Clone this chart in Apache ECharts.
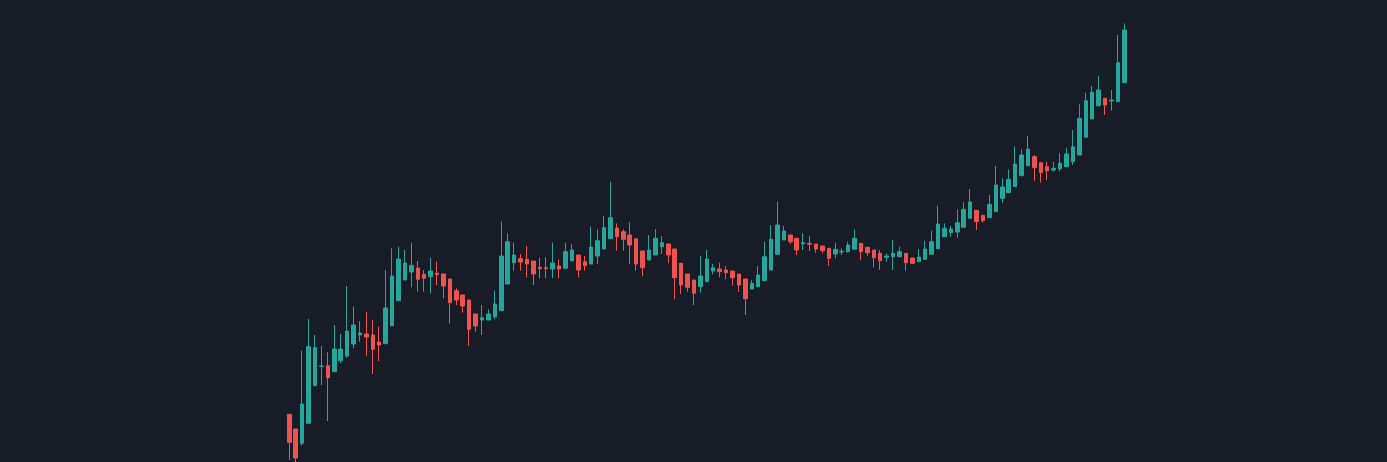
<!DOCTYPE html>
<html>
<head>
<meta charset="utf-8">
<script src="https://cdn.jsdelivr.net/npm/echarts@6/dist/echarts.min.js"></script>
<style>
html,body{margin:0;padding:0;background:#181c27;}
#chart{width:1387px;height:462px;}
</style>
</head>
<body>
<div id="chart"></div>
<script>
const opens = [8.57,7.10,5.67,7.67,11.43,13.37,13.43,12.83,13.93,14.40,15.60,16.50,16.60,16.50,15.80,15.63,17.43,19.93,22.00,22.80,
23.20,22.57,22.33,22.67,22.60,22.10,20.93,20.50,20.00,18.60,18.00,18.00,18.33,18.93,21.60,23.73,24.13,24.07,23.90,23.27,
23.23,23.10,23.40,23.17,23.93,24.50,23.83,23.60,24.40,25.10,26.13,27.20,26.83,26.50,26.13,24.90,24.00,24.50,25.33,25.60,
25.10,23.67,22.60,22.00,21.33,21.83,22.90,23.10,23.00,22.90,22.60,22.10,21.10,21.33,21.93,23.00,24.57,26.00,26.50,26.17,
25.60,25.67,25.60,25.40,25.17,24.60,24.80,24.83,25.07,25.67,25.27,25.00,24.67,24.27,24.33,24.33,24.67,24.20,23.83,24.07,
24.57,25.13,26.33,26.73,26.80,27.27,28.17,28.97,28.47,28.23,28.83,30.17,30.73,31.33,32.43,33.43,34.33,33.73,33.33,33.00,
33.10,33.33,33.83,34.50,36.27,38.10,39.43,40.17,39.90,39.83,41.73];
const closes = [5.77,4.20,9.60,15.33,15.23,13.40,12.23,15.10,15.10,16.90,17.50,16.70,16.30,15.07,15.50,19.20,22.40,24.10,23.70,23.47,
22.07,22.17,22.90,22.53,21.40,19.73,20.00,19.40,17.07,17.40,18.23,18.60,19.60,24.40,25.83,24.50,23.80,23.60,22.60,23.13,
23.13,23.70,23.10,24.83,25.00,23.00,23.43,25.30,25.93,27.23,28.23,26.33,26.07,25.50,23.60,23.23,25.00,26.17,25.73,24.50,
22.23,21.50,21.27,20.67,22.40,24.10,23.23,22.83,22.73,22.23,21.50,20.13,21.67,22.50,24.33,26.07,27.50,26.90,25.83,25.00,
25.73,25.57,25.10,24.93,24.17,25.07,24.87,25.50,26.17,24.83,24.73,24.23,23.93,24.40,24.67,24.83,23.73,23.67,24.30,25.10,
25.83,27.60,27.17,27.10,27.73,29.07,29.80,27.83,27.93,29.57,31.50,31.30,32.07,33.60,34.50,35.10,33.23,32.73,32.93,33.17,
33.67,34.60,35.33,38.17,39.93,40.77,41.00,39.50,40.00,43.73,47.00];
const lows = [4.00,3.80,5.43,7.67,11.43,11.50,7.90,12.83,13.67,14.23,15.17,15.83,14.40,12.60,13.90,15.63,17.43,19.93,22.00,21.27,
20.83,20.83,20.67,21.50,20.17,17.67,19.50,18.73,15.40,16.83,16.50,18.00,18.07,18.93,21.60,22.93,22.93,22.27,21.50,22.17,
22.17,22.17,22.17,23.17,23.83,22.27,22.93,23.60,23.60,25.10,26.13,24.93,24.93,23.60,22.93,22.37,24.00,24.50,24.60,23.67,
20.07,20.60,20.83,19.50,20.73,21.83,22.57,22.27,22.07,21.43,20.83,18.50,21.10,21.33,21.93,23.00,24.57,26.00,25.60,24.50,
25.00,24.90,24.73,24.67,23.40,24.17,24.50,24.73,25.07,24.00,24.40,23.27,23.00,23.83,23.00,24.27,22.93,23.67,23.83,24.07,
24.57,25.13,26.33,26.33,26.23,27.27,28.17,27.00,27.73,28.23,28.83,29.73,30.73,31.33,32.43,33.43,31.93,31.73,32.00,32.83,
32.83,33.33,33.50,34.50,36.27,38.10,39.43,38.50,38.93,39.83,41.73];
const highs = [8.57,7.10,14.93,18.10,16.50,15.40,14.77,17.50,16.60,21.40,19.33,17.90,18.80,18.00,17.33,23.00,25.17,25.33,25.00,25.73,
23.90,23.00,24.23,23.83,22.60,22.10,21.17,20.50,20.00,18.60,19.50,19.07,20.93,27.83,26.67,25.73,24.60,25.40,23.90,24.23,
24.27,25.73,24.07,25.73,25.60,24.50,24.40,27.33,27.07,28.40,31.83,27.67,27.07,27.77,26.13,24.90,26.50,27.10,26.40,25.60,
25.10,23.67,22.60,22.00,24.40,25.00,23.60,23.73,23.40,22.90,22.60,22.10,22.00,23.40,25.83,27.50,29.83,27.40,26.50,26.17,
26.67,26.40,25.60,25.40,25.17,25.73,25.17,25.83,27.07,25.67,25.27,25.00,25.00,24.67,26.00,25.33,24.67,24.20,25.10,25.93,
26.93,29.43,27.67,27.40,29.07,29.77,31.10,28.97,28.47,30.50,33.40,32.17,33.07,35.33,35.07,36.40,34.50,33.73,33.83,33.83,
34.67,35.23,37.00,39.57,40.73,41.40,42.40,40.17,41.00,46.50,47.67];
const categories = opens.map((_, i) => 'D' + (i + 1));

const upColor = '#26a69a';
const downColor = '#ef5350';
const candles = opens.map((o, i) => [o, closes[i], lows[i], highs[i]]);

const chart = echarts.init(document.getElementById('chart'));
chart.setOption({
  backgroundColor: '#181c27',
  animation: false,
  grid: { left: 286.1, right: 259.5, top: 0, bottom: 0 },
  xAxis: {
    type: 'category', data: categories, boundaryGap: true,
    show: false
  },
  yAxis: {
    type: 'value', min: 3.8, max: 50, show: false, scale: true
  },
  series: [{
    type: 'candlestick',
    data: candles,
    barWidth: 4,
    clip: false,
    itemStyle: {
      color: upColor, color0: downColor,
      borderColor: upColor, borderColor0: downColor,
      borderColorDoji: upColor,
      borderWidth: 1
    }
  }]
});
</script>
</body>
</html>
